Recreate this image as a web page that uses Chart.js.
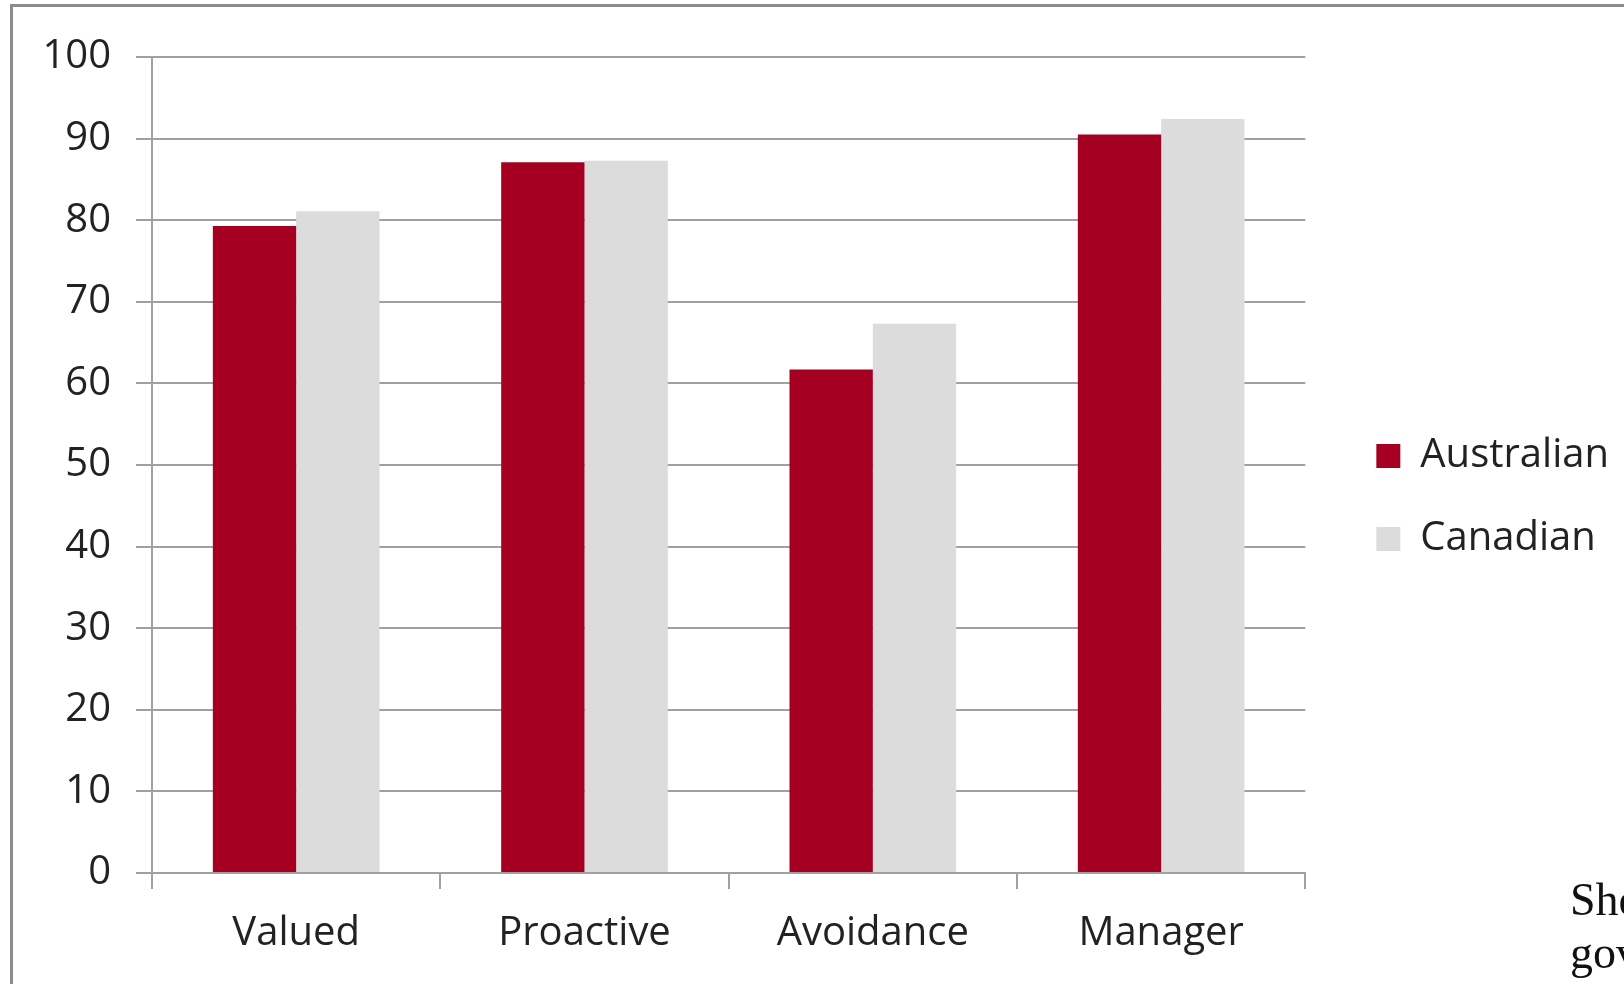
<!DOCTYPE html>
<html>
<head>
<meta charset="utf-8">
<script src="https://cdn.jsdelivr.net/npm/chart.js@4.4.0/dist/chart.umd.min.js"></script>
<style>
  html, body { margin: 0; padding: 0; background: #fff; overflow: hidden; }
  #page { position: relative; width: 1624px; height: 984px; overflow: hidden; }
  #frame { position: absolute; left: 10px; top: 4px; width: 1700px; height: 1100px;
           border: 3px solid #8c8c8c; box-sizing: border-box; }
  #wrap { position: absolute; left: 0; top: 0; width: 1624px; height: 984px; }
  .note { position: absolute; left: 1570px; font-family: "Liberation Serif", "Times New Roman", serif;
          font-size: 46px; color: #111; white-space: nowrap; line-height: 1; }
</style>
</head>
<body>
<div id="page">
  <div id="frame"></div>
  <div id="wrap"><canvas id="chart"></canvas></div>
  <div class="note" style="top:877px">She</div>
  <div class="note" style="top:930px">gov</div>
</div>
<script>
const categories = ['Valued', 'Proactive', 'Avoidance', 'Manager'];
const australian = [79.3, 87.1, 61.7, 90.5];
const canadian = [81.1, 87.3, 67.3, 92.4];
const yTicks = [0, 10, 20, 30, 40, 50, 60, 70, 80, 90, 100];

const font = { family: '"Open Sans", "Noto Sans", sans-serif', size: 40 };
const gridColor = '#a0a0a0';

// nudge the legend to where the original puts it (right of plot, a bit higher)
const legendNudge = {
    id: 'legendNudge',
    afterLayout(chart) {
        const lg = chart.legend;
        if (!lg) return;
        lg.left += 28; lg.right += 28;
        lg.top -= 23; lg.bottom -= 23;
    }
};

const ctx = document.getElementById('chart').getContext('2d');
new Chart(ctx, {
    type: 'bar',
    data: {
        labels: categories,
        datasets: [
            { label: 'Australian', data: australian, backgroundColor: '#a50021' },
            { label: 'Canadian', data: canadian, backgroundColor: '#dcdcdc' }
        ]
    },
    options: {
        responsive: true,
        maintainAspectRatio: false,
        animation: false,
        datasets: { bar: { categoryPercentage: 0.578, barPercentage: 1.0 } },
        layout: { padding: { left: 14, top: 57, right: 33, bottom: 0 } },
        plugins: {
            tooltip: { enabled: false },
            legend: {
                position: 'right',
                labels: {
                    boxWidth: 24,
                    boxHeight: 24,
                    padding: 43,
                    color: '#222',
                    font: font
                }
            }
        },
        scales: {
            x: {
                grid: { drawOnChartArea: false, drawTicks: true, tickLength: 16, color: gridColor, lineWidth: 2 },
                border: { color: gridColor, width: 2 },
                ticks: { color: '#222', font: font, padding: 21, maxRotation: 0 },
                afterFit: (scale) => { scale.height = 984 - 873; }
            },
            y: {
                min: 0,
                max: 100,
                afterBuildTicks: (scale) => { scale.ticks = yTicks.map(v => ({ value: v })); },
                grid: { color: gridColor, lineWidth: 2, tickLength: 16 },
                border: { color: gridColor, width: 2 },
                ticks: { color: '#222', font: font, padding: 25 },
                afterFit: (scale) => { scale.width = 152 - 14; }
            }
        }
    },
    plugins: [legendNudge]
});
</script>
</body>
</html>
